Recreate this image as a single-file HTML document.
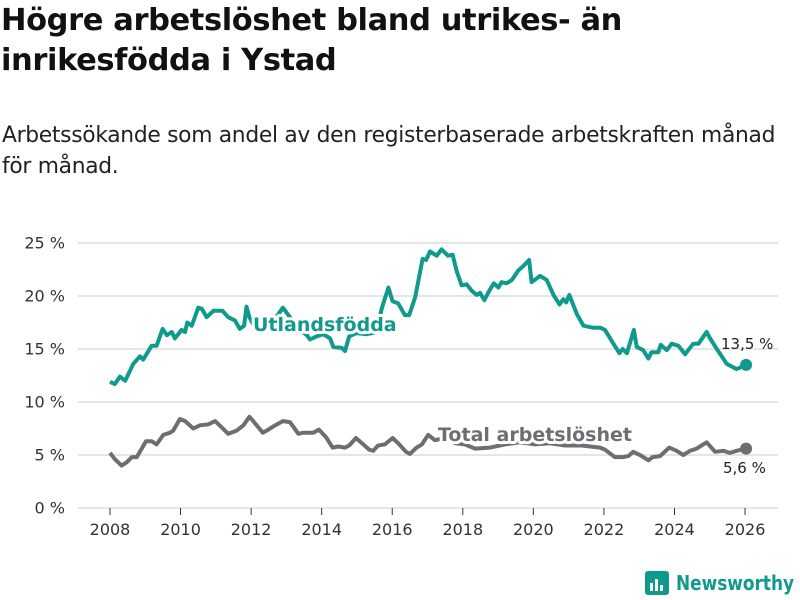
<!DOCTYPE html>
<html><head><meta charset="utf-8"><style>
body{margin:0;background:#fff;width:800px;height:600px;overflow:hidden;font-family:"Liberation Sans","DejaVu Sans",sans-serif}
#t{position:absolute;left:1px;top:1px;font-size:30.5px;font-weight:bold;line-height:40px;color:#111;font-family:"DejaVu Sans",sans-serif;letter-spacing:-0.4px}
#s{position:absolute;left:2px;top:120px;font-size:21.8px;line-height:31px;color:#222;font-family:"DejaVu Sans",sans-serif;letter-spacing:-0.3px}
svg{position:absolute;left:0;top:0}
</style></head><body>
<div id="t">Högre arbetslöshet bland utrikes- än<br>inrikesfödda i Ystad</div>
<div id="s">Arbetssökande som andel av den registerbaserade arbetskraften månad<br>för månad.</div>
<svg id="c" width="800" height="600"></svg>
<script>
const yTicks=[0,5,10,15,20,25];
const xTicks=[2008,2010,2012,2014,2016,2018,2020,2022,2024,2026];
const foreignYears=[2008,2008.14,2008.28,2008.43,2008.66,2008.85,2008.94,2009.18,2009.32,2009.49,2009.61,2009.75,2009.84,2010.03,2010.13,2010.19,2010.32,2010.5,2010.6,2010.74,2010.93,2011.19,2011.35,2011.54,2011.68,2011.8,2011.87,2011.95,2012.11,2012.31,2012.54,2012.71,2012.9,2013.1,2013.3,2013.58,2013.67,2013.86,2014.04,2014.24,2014.33,2014.57,2014.66,2014.78,2014.99,2015.28,2015.56,2015.7,2015.89,2016.01,2016.17,2016.36,2016.48,2016.65,2016.86,2016.96,2017.07,2017.26,2017.4,2017.58,2017.71,2017.83,2017.97,2018.11,2018.25,2018.39,2018.49,2018.61,2018.75,2018.88,2019.01,2019.1,2019.24,2019.39,2019.57,2019.71,2019.88,2019.95,2020.19,2020.38,2020.57,2020.74,2020.85,2020.93,2021.02,2021.23,2021.42,2021.7,2021.91,2022.03,2022.27,2022.44,2022.53,2022.65,2022.85,2022.93,2023.11,2023.26,2023.35,2023.54,2023.61,2023.78,2023.92,2024.11,2024.3,2024.53,2024.68,2024.91,2025.01,2025.2,2025.48,2025.76,2026.03];
const foreignValues=[11.9,11.7,12.4,12,13.6,14.3,14,15.3,15.3,16.9,16.3,16.6,16,16.8,16.6,17.5,17.2,18.9,18.8,18,18.6,18.6,18,17.7,16.9,17.2,19,18,17,16.6,17.5,18,18.9,18,17,16.3,15.9,16.2,16.4,16,15.2,15.1,14.8,16.2,16.5,16.4,16.6,18.8,20.8,19.5,19.3,18.2,18.2,19.9,23.5,23.4,24.2,23.8,24.4,23.8,23.9,22.3,21,21.1,20.5,20.1,20.3,19.6,20.5,21.2,20.8,21.3,21.2,21.5,22.4,22.8,23.4,21.3,21.9,21.5,20.1,19.2,19.7,19.4,20.1,18.3,17.2,17,17,16.8,15.5,14.6,15,14.6,16.8,15.2,14.9,14.1,14.7,14.7,15.4,14.9,15.5,15.3,14.5,15.5,15.5,16.6,16,15,13.6,13.1,13.5];
const totalYears=[2008,2008.14,2008.33,2008.47,2008.62,2008.76,2009.02,2009.18,2009.32,2009.51,2009.7,2009.79,2009.98,2010.13,2010.36,2010.55,2010.79,2010.98,2011.17,2011.35,2011.59,2011.78,2011.95,2012.06,2012.33,2012.49,2012.63,2012.9,2013.1,2013.34,2013.48,2013.76,2013.92,2014.12,2014.31,2014.47,2014.66,2014.78,2014.97,2015.18,2015.35,2015.46,2015.6,2015.79,2016.01,2016.17,2016.39,2016.5,2016.69,2016.84,2017.02,2017.21,2017.5,2017.78,2018.06,2018.35,2018.77,2019.2,2019.62,2020.05,2020.47,2020.9,2021.37,2021.89,2022.03,2022.31,2022.55,2022.69,2022.83,2023.02,2023.26,2023.38,2023.59,2023.85,2024.06,2024.25,2024.44,2024.63,2024.91,2025.15,2025.39,2025.57,2025.76,2026.03];
const totalValues=[5.2,4.6,4,4.3,4.8,4.8,6.3,6.3,6,6.9,7.1,7.3,8.4,8.2,7.5,7.8,7.9,8.2,7.6,7,7.3,7.8,8.6,8.2,7.1,7.4,7.7,8.2,8.1,7,7.1,7.1,7.4,6.7,5.7,5.8,5.7,5.9,6.6,6,5.5,5.4,5.9,6,6.6,6.1,5.3,5.1,5.7,6,6.9,6.4,6.6,6.1,6,5.6,5.7,6,6.2,6,6.1,5.9,5.9,5.7,5.5,4.8,4.8,4.9,5.3,5,4.5,4.8,4.9,5.7,5.4,5,5.4,5.6,6.2,5.3,5.4,5.2,5.4,5.6];
const NS='http://www.w3.org/2000/svg';
const svg=document.getElementById('c');
const X=y=>110+(y-2008)*35.28;
const Y=v=>508-v*10.6;
function mk(t,a,p){const e=document.createElementNS(NS,t);for(const k in a)e.setAttribute(k,a[k]);(p||svg).appendChild(e);return e;}
yTicks.forEach(v=>{
 const l=mk('line',{x1:78,x2:778,y1:Y(v),y2:Y(v),stroke:'#ddd','stroke-width':1.5});
 
 
 const t=mk('text',{x:65,y:Y(v)+5.5,'text-anchor':'end','font-size':16,fill:'#333','font-family':'DejaVu Sans, sans-serif'});
 t.textContent=v+' %';
 
 
});
xTicks.forEach(v=>{
 const l=mk('line',{x1:X(v),x2:X(v),y1:508,y2:515,stroke:'#333','stroke-width':1});
 
 
 const t=mk('text',{x:X(v),y:535,'text-anchor':'middle','font-size':16,fill:'#333','font-family':'DejaVu Sans, sans-serif'});
 t.textContent=v;
 
 
});
function series(xs,vs,col,name){
 const d=xs.map((x,i)=>(i?'L':'M')+X(x).toFixed(1)+','+Y(vs[i]).toFixed(1)).join('');
 const p=mk('path',{d:d,fill:'none',stroke:col,'stroke-width':4,'stroke-linejoin':'round'});
 
 
 const n=xs.length-1;
 const c=mk('circle',{cx:X(xs[n]),cy:Y(vs[n]),r:6,fill:col});
 
 
}
series(totalYears,totalValues,'#6e6d72','total');
series(foreignYears,foreignValues,'#0f9a8d','foreign');
function lab(x,y,txt,col,name,sz,bold){
 const t=mk('text',{x:x,y:y,'font-size':sz,fill:col,'font-weight':bold?'bold':'normal','font-family':'DejaVu Sans, sans-serif',stroke:'#fff','stroke-width':bold?6:0,'paint-order':'stroke','stroke-linejoin':'round'});
 t.textContent=txt;
 
 
}
lab(253,331,'Utlandsfödda','#0f9a8d','foreign-series-label',19,true);
lab(438,441,'Total arbetslöshet','#6e6d72','total-series-label',19,true);
lab(721,349,'13,5 %','#222','foreign-last-value',15,false);
lab(723,473,'5,6 %','#222','total-last-value',15,false);
</script>
<svg width="800" height="600" style="pointer-events:none">
<rect x="645" y="571" width="24" height="24" rx="3" fill="#0f9a8d"/>
<rect x="650" y="583" width="3" height="8" fill="#fff"/><rect x="655" y="579" width="3" height="12" fill="#fff"/><rect x="660" y="585" width="3" height="6" fill="#fff"/>
<text x="676" y="590" font-size="20" font-weight="bold" fill="#0f9a8d" font-family="DejaVu Sans, sans-serif" textLength="118" lengthAdjust="spacingAndGlyphs">Newsworthy</text>
</svg>
</body></html>
